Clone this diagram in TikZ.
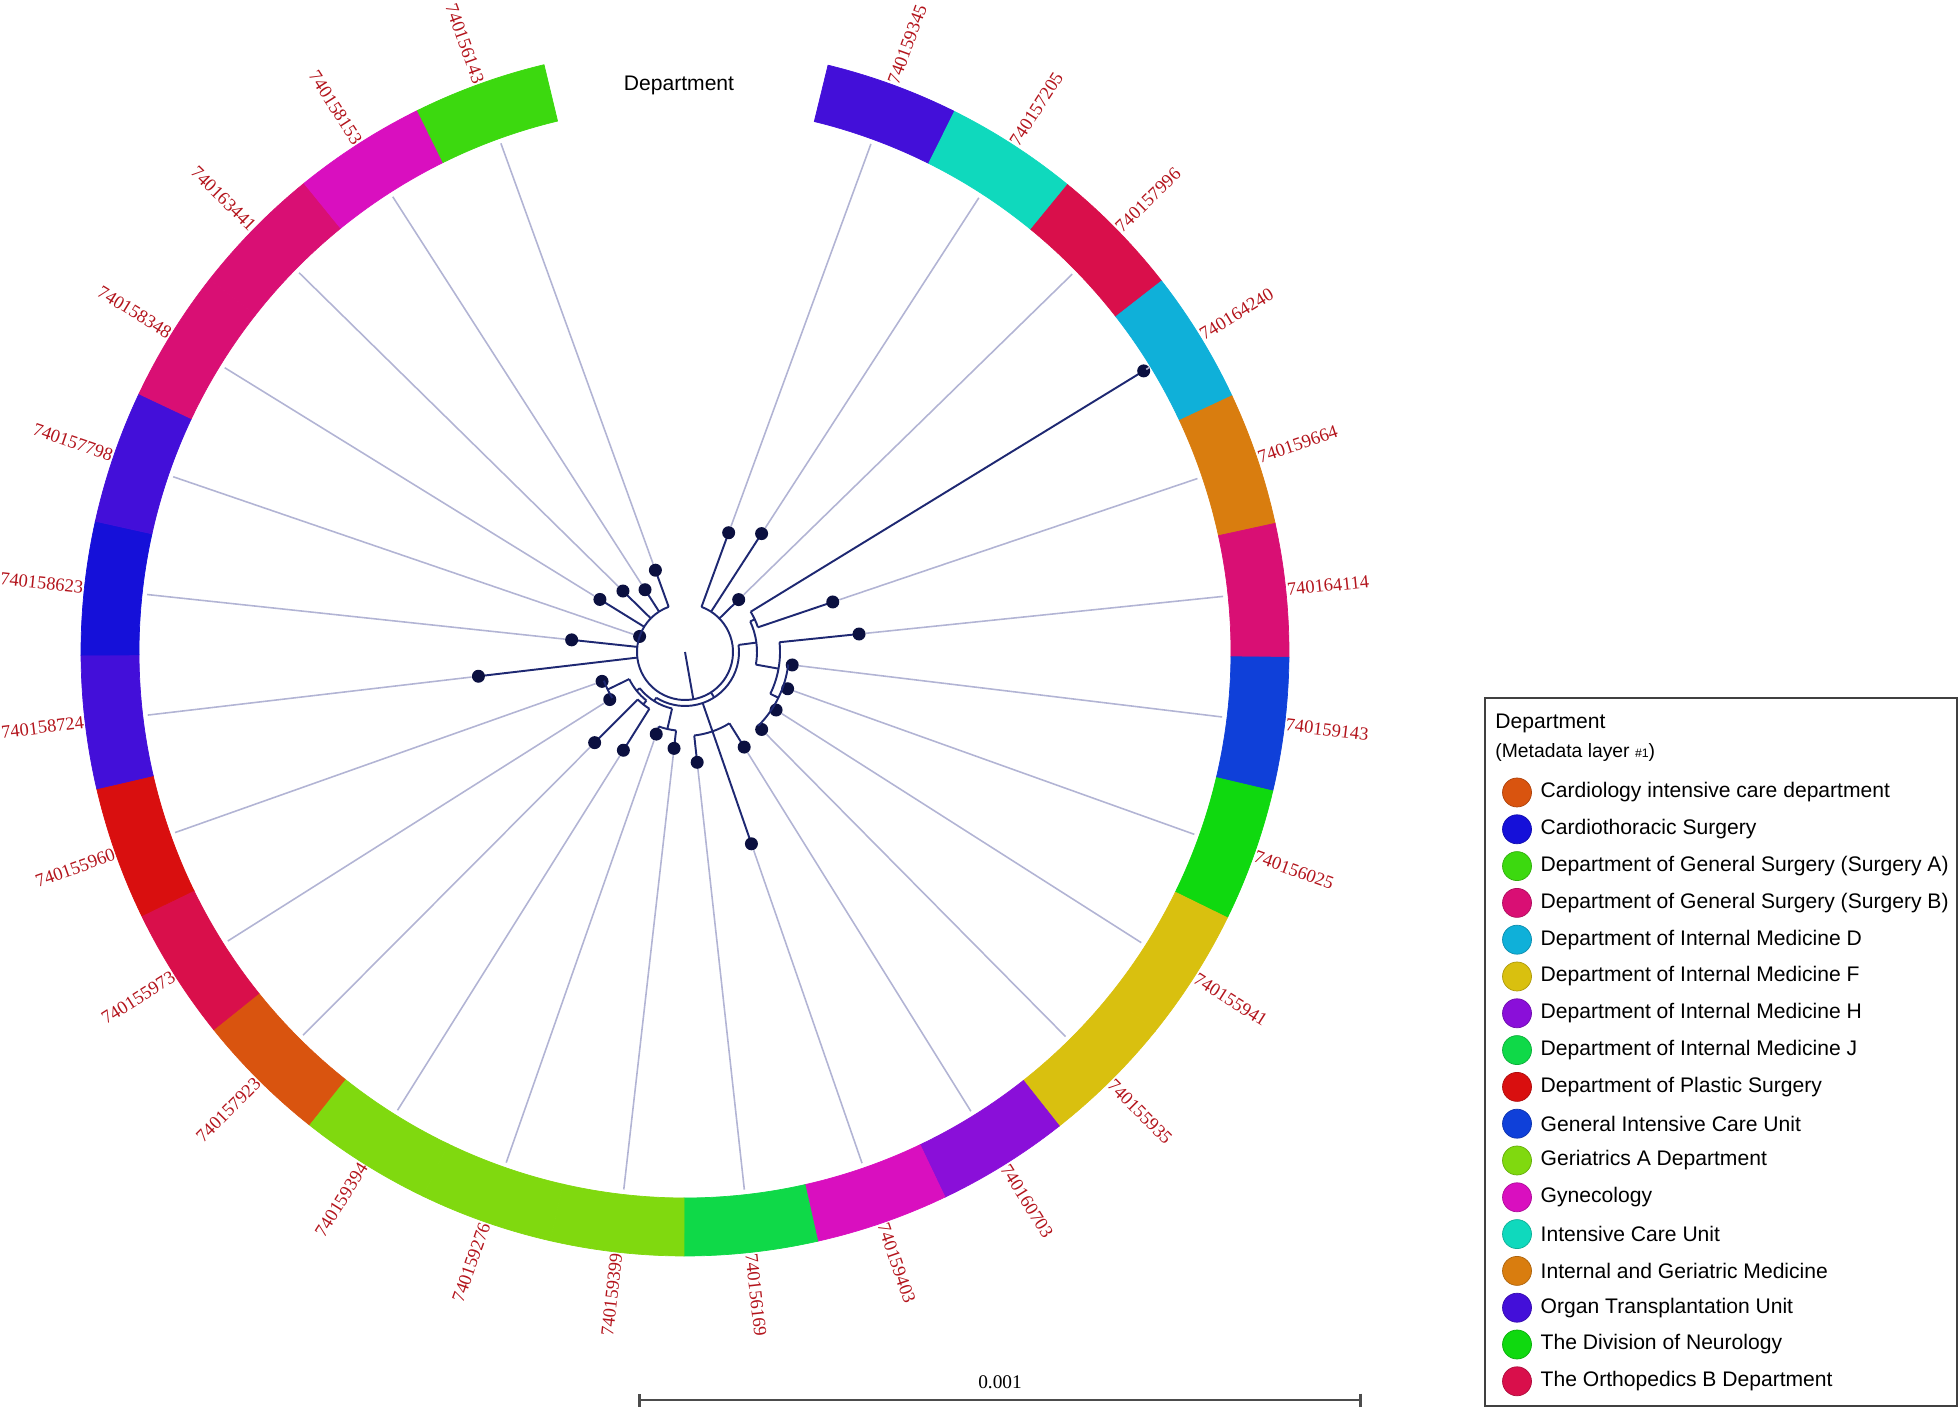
\documentclass[tikz,border=0pt]{standalone}
\usepackage{fontspec}
\setmainfont{Liberation Serif}
\setsansfont{Liberation Sans}
\usepackage{tikz}
\usetikzlibrary{arrows.meta,positioning}
\definecolor{treeline}{HTML}{1E2872}
\definecolor{tipdot}{HTML}{0B1040}
\definecolor{leafgrey}{HTML}{B2B4D4}
\definecolor{tiptext}{HTML}{B3141C}
\definecolor{cardicu}{HTML}{D9540F}
\definecolor{cardio}{HTML}{1510D9}
\definecolor{gsurga}{HTML}{3CD90F}
\definecolor{gsurgb}{HTML}{D90F74}
\definecolor{imedd}{HTML}{0FB0D9}
\definecolor{imedf}{HTML}{D9C00F}
\definecolor{imedh}{HTML}{8A0FD9}
\definecolor{imedj}{HTML}{0FD948}
\definecolor{plastic}{HTML}{D90F0F}
\definecolor{gicu}{HTML}{0F40D9}
\definecolor{geria}{HTML}{80D90F}
\definecolor{gyn}{HTML}{D90FBF}
\definecolor{icu}{HTML}{0FD9BD}
\definecolor{igmed}{HTML}{D97D0F}
\definecolor{organ}{HTML}{430FD9}
\definecolor{neuro}{HTML}{0FD90F}
\definecolor{orthob}{HTML}{D90F4B}
\newcommand\clade[5]{%
  \draw[branch] (#3:#2) -- (#3:#1);
  \draw[branch] (#4:#1) arc[start angle=#4, end angle=#5, radius=#1];}

\begin{document}
\begin{tikzpicture}[x=0.2mm, y=0.2mm,
  branch/.style={draw=treeline, line width=1.1pt},
  leafln/.style={draw=leafgrey, line width=0.9pt},
  tip/.style={circle, fill=tipdot, inner sep=0pt, minimum size=2.6mm},
  tiplab/.style={font=\fontsize{10.5}{10.5}\selectfont, text=tiptext, inner sep=0pt},
  legitem/.style={font=\sffamily\fontsize{12}{12}\selectfont, anchor=west, inner sep=0pt},
  legdot/.style={circle, line width=0.4pt, minimum size=5.8mm, inner sep=0pt},
]
  \useasboundingbox (0,0) rectangle (1960,1412);

  \begin{scope}[shift={(685,760)}]
    \coordinate (root) at (0,0);
    \foreach \lab/\col/\tip/\pr [count=\i from 0] in {
      740159345/organ/127/48, 740157205/icu/141/48, 740157996/orthob/75/48,
      740164240/imedd/538/77, 740159664/igmed/156/77, 740164114/gsurgb/175/95,
      740159143/gicu/108/104, 740156025/neuro/109/104, 740155941/imedf/108/104,
      740155935/imedf/109/104, 740160703/imedh/112/84, 740159403/gyn/203/84,
      740156169/imedj/111/84, 740159399/geria/97/79, 740159276/geria/87/79,
      740159394/geria/116/67, 740157923/cardicu/128/67, 740155973/orthob/89/86,
      740155960/plastic/88/86, 740158724/organ/208/48, 740158623/cardio/114/48,
      740157798/organ/48/48, 740158348/gsurgb/100/48, 740163441/gsurgb/87/48,
      740158153/gyn/74/48, 740156143/gsurga/87/48} {
      \pgfmathsetmacro\a{69.9-12.8*\i}
      \pgfmathsetmacro\aU{\a+6.4}
      \pgfmathsetmacro\aL{\a-6.4}
      \filldraw[fill=\col, draw=\col, line width=0.4pt] (\aU:546) arc[start angle=\aU, end angle=\aL, radius=546]
        -- (\aL:604) arc[start angle=\aL, end angle=\aU, radius=604] -- cycle;
      \coordinate (e\i) at (\a:541);
      \draw[branch] (\a:\pr) -- (\a:\tip);
      \node[tip] (t\i) at (\a:\tip) {};
      \draw[leafln] (t\i) -- (e\i);
      \ifnum\i>12
        \pgfmathsetmacro\rot{\a+180}
        \node[tiplab, rotate=\rot, anchor=east] (lab\i) at (\a:605) {\lab};
      \else
        \node[tiplab, rotate=\a, anchor=west] (lab\i) at (\a:605) {\lab};
      \fi
    }
    \draw[branch] (root) -- (-80:48);
    \draw[branch] (69.9:48) arc[start angle=69.9, end angle=-250.1, radius=48];
    \clade{54}{48}{-57.3}{7.5}{-122.1}
    \clade{72}{54}{7.5}{25.1}{-10.1}
    \clade{77}{72}{25.1}{31.5}{18.7}
    \clade{95}{72}{-10.1}{5.9}{-26.1}
    \clade{104}{95}{-26.1}{-6.9}{-45.3}
    \clade{84}{54}{-70.9}{-58.1}{-83.7}
    \clade{58}{54}{-122.1}{-102.9}{-141.3}
    \clade{79}{58}{-102.9}{-96.5}{-109.3}
    \clade{62}{58}{-141.3}{-128.5}{-154.1}
    \clade{67}{62}{-128.5}{-122.1}{-134.9}
    \clade{86}{62}{-154.1}{-147.7}{-160.5}
  \end{scope}

  \node[font=\sffamily\fontsize{12}{12}\selectfont] (ringtitle) at (679,1327) {Department};

  \coordinate (sbl) at (638,12);
  \coordinate (sbr) at (1362,12);
  \draw[black!70, line width=1.5pt, {Bar[width=2.6mm]}-{Bar[width=2.6mm]}] (sbl) -- (sbr)
    node[midway, above=0.8mm, text=black, font=\fontsize{11}{11}\selectfont] (sblab) {0.001};

  \node[draw=black!75, line width=0.9pt, minimum width=94.4mm, minimum height=141.6mm, inner sep=0pt] (legend) at (1721,360) {};
  \node[legitem] (legtitle) at (1495,689) {Department};
  \node[legitem, font=\sffamily\fontsize{11}{11}\selectfont] (legsub) at (1495,659) {(Metadata layer {\scriptsize\#1})};
  \foreach \name/\col [count=\k from 0] in {
    Cardiology intensive care department/cardicu,
    Cardiothoracic Surgery/cardio,
    Department of General Surgery (Surgery A)/gsurga,
    Department of General Surgery (Surgery B)/gsurgb,
    Department of Internal Medicine D/imedd,
    Department of Internal Medicine F/imedf,
    Department of Internal Medicine H/imedh,
    Department of Internal Medicine J/imedj,
    Department of Plastic Surgery/plastic,
    General Intensive Care Unit/gicu,
    Geriatrics A Department/geria,
    Gynecology/gyn,
    Intensive Care Unit/icu,
    Internal and Geriatric Medicine/igmed,
    Organ Transplantation Unit/organ,
    The Division of Neurology/neuro,
    The Orthopedics B Department/orthob} {
    \node[legdot, fill=\col, draw=\col!80!black] (ld\k) at (1517,{619.5-36.8*\k}) {};
    \node[legitem, right=1.7mm of ld\k] (lt\k) {\name};
  }
\end{tikzpicture}
\end{document}
